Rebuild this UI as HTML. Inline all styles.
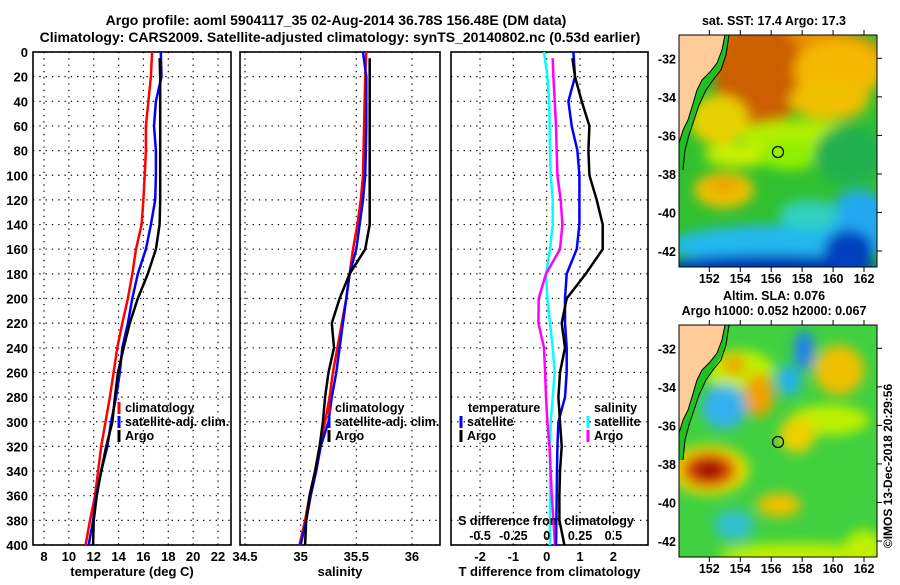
<!DOCTYPE html>
<html><head><meta charset="utf-8"><style>
html,body{margin:0;padding:0;background:#fff}
svg text{font-family:"Liberation Sans",sans-serif;font-weight:bold;fill:#000}
</style></head><body>
<svg id="c" width="900" height="580" xmlns="http://www.w3.org/2000/svg">
<defs>
<filter id="bl" x="-20%" y="-20%" width="140%" height="140%"><feGaussianBlur stdDeviation="6"/></filter>
<clipPath id="m1"><rect x="0" y="0" width="198" height="232"/></clipPath>
</defs>
<text x="336" y="25" font-size="14" text-anchor="middle">Argo profile: aoml 5904117_35 02-Aug-2014 36.78S 156.48E (DM data)</text>
<text x="340" y="42" font-size="14" text-anchor="middle">Climatology: CARS2009. Satellite-adjusted climatology: synTS_20140802.nc (0.53d earlier)</text>
<g id="plots"></g>
<g id="maps"></g>
</svg>
<script>
const depths=[0,20,40,60,80,100,120,140,160,180,200,220,240,260,280,300,320,340,360,380,400];
const argoDepths=[5,20,40,60,80,100,120,140,160,180,200,220,240,260,280,300,320,340,360,380,400];
const tClim=[16.7,16.6,16.4,16.2,16.2,16.1,16.0,15.85,15.4,15.1,14.75,14.3,13.9,13.6,13.3,12.95,12.6,12.35,12.1,11.7,11.35];
const tSat=[17.4,17.45,17.0,16.85,17.0,17.0,16.95,16.6,16.2,15.55,15.1,14.75,14.3,14.1,13.8,13.4,13.1,12.6,12.2,11.95,11.6];
const tArgo=[17.3,17.35,17.35,17.35,17.35,17.35,17.35,17.3,17.0,16.35,15.55,14.9,14.4,13.95,13.7,13.5,13.0,12.6,12.25,12.0,11.95];
const sClim=[35.59,35.58,35.575,35.57,35.565,35.56,35.54,35.51,35.47,35.44,35.41,35.37,35.33,35.29,35.26,35.22,35.17,35.13,35.08,35.04,34.99];
const sSat=[35.56,35.59,35.59,35.59,35.585,35.58,35.56,35.53,35.5,35.44,35.41,35.38,35.35,35.32,35.28,35.25,35.18,35.14,35.09,35.05,35.0];
const sArgo=[35.62,35.62,35.62,35.62,35.62,35.62,35.62,35.62,35.58,35.44,35.35,35.28,35.3,35.25,35.22,35.2,35.17,35.13,35.08,35.05,35.04];
const dTSat=[0.8,0.85,0.65,0.75,0.92,0.98,0.98,0.98,0.9,0.6,0.55,0.55,0.6,0.6,0.55,0.35,0.32,0.31,0.3,0.29,0.28];
const dTArgo=[0.77,0.85,1.05,1.28,1.25,1.28,1.5,1.68,1.68,1.17,0.6,0.45,0.55,0.4,0.35,0.4,0.45,0.4,0.38,0.38,0.53];
const dSSat=[-0.02,0.005,0.018,0.022,0.025,0.03,0.045,0.045,0.025,-0.005,0.005,0.025,0.045,0.06,0.045,0.03,0.025,0.025,0.025,0.025,0.025];
const dSArgo=[0.045,0.05,0.06,0.07,0.075,0.08,0.105,0.118,0.1,-0.005,-0.06,-0.062,-0.02,-0.012,-0.005,0.005,0.02,0.03,0.038,0.05,0.062];
const depthTicks=[0,20,40,60,80,100,120,140,160,180,200,220,240,260,280,300,320,340,360,380,400];
const tTicks=[8,10,12,14,16,18,20,22];
const sTicks=[34.5,35,35.5,36];
const sTickLabels=['34.5','35','35.5','36'];
const dTTicks=[-2,-1,0,1,2];
const dSTicks=[-0.5,-0.25,0,0.25,0.5];
const dSTickLabels=['-0.5','-0.25','0','0.25','0.5'];

const NS='http://www.w3.org/2000/svg';
const top0=52,bot0=545;
const yD=d=>top0+d*(bot0-top0)/400;
const xT=t=>44+(t-8)*12.43;
const xS=s=>245+(s-34.5)*111.3;
const xDT=v=>546.7+v*33.33;
const xDS=v=>546.7+v*133.3;
function mk(tag,attrs,parent){const e=document.createElementNS(NS,tag);for(const k in attrs)e.setAttribute(k,attrs[k]);parent.appendChild(e);return e;}
const plots=document.getElementById('plots');

function panel(name,x0,x1,ticks,labels,fx,xtitle,showDepth){
  const g=mk('g',{},plots);
  
  
  depthTicks.forEach(d=>{
    mk('line',{x1:x0,x2:x1,y1:yD(d),y2:yD(d),stroke:'#000','stroke-width':1.2,'stroke-dasharray':'1.3 5'},g);
    if(showDepth){const t=mk('text',{x:28,y:yD(d)+5,'font-size':13,'text-anchor':'end'},g);t.textContent=d;
      
      }
  });
  ticks.forEach((v,i)=>{
    mk('line',{x1:fx(v),x2:fx(v),y1:top0,y2:bot0,stroke:'#000','stroke-width':1.2,'stroke-dasharray':'1.3 5'},g);
    if(labels){const t=mk('text',{x:fx(v),y:561,'font-size':13,'text-anchor':'middle'},g);t.textContent=labels[i];
      
      }
  });
  mk('rect',{x:x0,y:top0,width:x1-x0,height:bot0-top0,fill:'none',stroke:'#000','stroke-width':1.6},g);
  const tt=mk('text',{x:(x0+x1)/2,y:576,'font-size':13,'text-anchor':'middle'},g);tt.textContent=xtitle;
  
  
  return g;
}
function line(g,ds,vals,fx,color,name,w){
  const p=mk('polyline',{points:vals.map((v,i)=>fx(v).toFixed(1)+','+yD(ds[i]).toFixed(1)).join(' '),fill:'none',stroke:color,'stroke-width':w||2.5,'stroke-linejoin':'round'},g);
  
  
}
function legend(g,x,y,color,label,name){
  mk('rect',{x:x-1.5,y:y-10,width:3,height:12,fill:color},g);
  const t=mk('text',{x:x+6,y:y,'font-size':12.5},g);t.textContent=label;
  
  
}
const g1=panel('temperature-panel',33,231,tTicks,tTicks,xT,'temperature (deg C)',true);
line(g1,depths,tClim,xT,'#f00','temp-climatology-line');
line(g1,depths,tSat,xT,'#00f','temp-satellite-line');
line(g1,argoDepths,tArgo,xT,'#000','temp-argo-line');
legend(g1,119,412,'#f00','climatology','legend-climatology');
legend(g1,119,426,'#00f','satellite-adj. clim.','legend-satellite');
legend(g1,119,440,'#000','Argo','legend-argo');

const g2=panel('salinity-panel',240,440,sTicks,sTickLabels,xS,'salinity',false);
line(g2,depths,sClim,xS,'#f00','sal-climatology-line');
line(g2,depths,sSat,xS,'#00f','sal-satellite-line');
line(g2,argoDepths,sArgo,xS,'#000','sal-argo-line');
legend(g2,329,412,'#f00','climatology','legend-climatology');
legend(g2,329,426,'#00f','satellite-adj. clim.','legend-satellite');
legend(g2,329,440,'#000','Argo','legend-argo');

const g3=panel('difference-panel',451,648,dTTicks,dTTicks,xDT,'T difference from climatology',false);
line(g3,depths,dSSat,xDS,'#0ff','sal-diff-satellite-line');
line(g3,argoDepths,dSArgo,xDS,'#f0f','sal-diff-argo-line');
line(g3,depths,dTSat,xDT,'#00f','temp-diff-satellite-line');
line(g3,argoDepths,dTArgo,xDT,'#000','temp-diff-argo-line');
{const t=mk('text',{x:468,y:412,'font-size':12.5},g3);t.textContent='temperature';


const t2=mk('text',{x:594,y:412,'font-size':12.5},g3);t2.textContent='salinity';

}
legend(g3,461,426,'#00f','satellite','legend-temp-satellite');
legend(g3,461,440,'#000','Argo','legend-temp-argo');
legend(g3,588,426,'#0ff','satellite','legend-sal-satellite');
legend(g3,588,440,'#f0f','Argo','legend-sal-argo');
{const t=mk('text',{x:546,y:525,'font-size':12.5,'text-anchor':'middle'},g3);t.textContent='S difference from climatology';

}
dSTicks.forEach((v,i)=>{const t=mk('text',{x:xDS(v),y:540,'font-size':12.5,'text-anchor':'middle'},g3);t.textContent=dSTickLabels[i];

});

// maps
const maps=document.getElementById('maps');
const coast='0,0 46,0 43,15 38,28 31,37 23,45 18,55 13,72 9,85 4,95 1,105 0,108';
const coastLine='46,0 43,15 38,28 31,37 23,45 18,55 13,72 9,85 4,95 1,105 0,108 0,130';
const shelf='50,0 47,20 42,35 34,45 27,55 20,70 15,85 10,100 6,115 4,135';
function map(name,oy,bg,blobs,title){
  const g=mk('g',{transform:'translate(679,'+oy+')'},maps);
  
  
  const inner=mk('g',{'clip-path':'url(#m1)'},g);
  mk('rect',{x:0,y:0,width:198,height:232,fill:bg},inner);
  const bg2=mk('g',{filter:'url(#bl)'},inner);
  blobs.forEach(b=>mk('ellipse',{cx:b[0],cy:b[1],rx:b[2],ry:b[3],fill:b[4]},bg2));
  mk('polygon',{points:'0,0 51,0 47,18 42,32 35,43 28,52 21,66 16,80 11,95 7,110 4,135 0,135',fill:'#20c020'},inner);
  mk('polygon',{points:coast,fill:'#ffcc99'},inner);
  mk('polyline',{points:coastLine,fill:'none',stroke:'#000','stroke-width':1},inner);
  mk('polyline',{points:shelf,fill:'none',stroke:'#000','stroke-width':1},inner);
  const c=mk('circle',{cx:99,cy:117,r:5.5,fill:'none',stroke:'#000','stroke-width':1.2},g);
  
  
  mk('rect',{x:0,y:0,width:198,height:232,fill:'none',stroke:'#000','stroke-width':1},g);
  [-32,-34,-36,-38,-40,-42].forEach((lat,i)=>{const y=23.3+i*38.54;
    const t=mk('text',{x:-3,y:y+5,'font-size':12.5,'text-anchor':'end'},g);t.textContent=lat;
    
    
    mk('line',{x1:198,x2:203,y1:y,y2:y,stroke:'#000'},g);});
  [152,154,156,158,160,162].forEach((lon,i)=>{const x=30.3+i*30.94;
    const t=mk('text',{x:x,y:248,'font-size':12.5,'text-anchor':'middle'},g);t.textContent=lon;
    
    
    mk('line',{x1:x,x2:x,y1:0,y2:-5,stroke:'#000'},g);mk('line',{x1:x,x2:x,y1:232,y2:237,stroke:'#000'},g);});
  const n=title.length;
  title.forEach((s,i)=>{const t=mk('text',{x:95,y:-10-(n-1-i)*15,'font-size':12.5,'text-anchor':'middle'},g);t.textContent=s;
    
    });
}
map('sst-map',35,'#30c030',[
 [110,20,95,30,'#e89000'],[80,40,45,55,'#cc5f00'],[160,35,45,30,'#f5b800'],[150,65,40,20,'#f0c000'],
 [40,85,30,25,'#e8d000'],[120,100,60,15,'#b0f000'],[60,120,35,12,'#c8f000'],[110,120,30,15,'#90f000'],
 [45,155,30,18,'#f0c000'],[45,150,15,8,'#f0a000'],[170,120,35,30,'#20b050'],
 [100,210,110,20,'#20b8f0'],[180,185,30,30,'#20a8f0'],[90,232,110,12,'#0030b0'],[170,215,25,20,'#0040c0'],
 [130,180,30,15,'#30d0c0']
],['sat. SST: 17.4 Argo: 17.3']);
map('sla-map',325,'#40d040',[
 [60,45,35,20,'#c0f000'],[55,40,12,10,'#f0a000'],[78,73,10,16,'#e06000'],[80,70,15,22,'#f0a000'],
 [125,25,10,20,'#2080f0'],[110,55,12,15,'#20b0f0'],[45,82,14,14,'#2040d0'],[45,82,22,22,'#30b0f0'],
 [160,45,25,25,'#f0c000'],[150,95,40,15,'#c0f000'],[118,110,10,10,'#f08000'],[118,110,18,18,'#f0d000'],
 [30,145,40,25,'#e8e000'],[30,145,28,18,'#e05000'],[30,145,16,10,'#a00000'],
 [100,180,22,12,'#f0c000'],[55,200,20,15,'#30c0d0'],[120,230,80,12,'#c0f000'],[185,225,20,20,'#c0f000']
],['Altim. SLA: 0.076','Argo h1000: 0.052 h2000: 0.067']);
{const t=mk('text',{x:0,y:0,'font-size':12,'font-weight':'normal','text-anchor':'middle',transform:'translate(892,466) rotate(-90)'},maps);t.textContent='©IMOS 13-Dec-2018 20:29:56';

}
</script>
</body></html>
